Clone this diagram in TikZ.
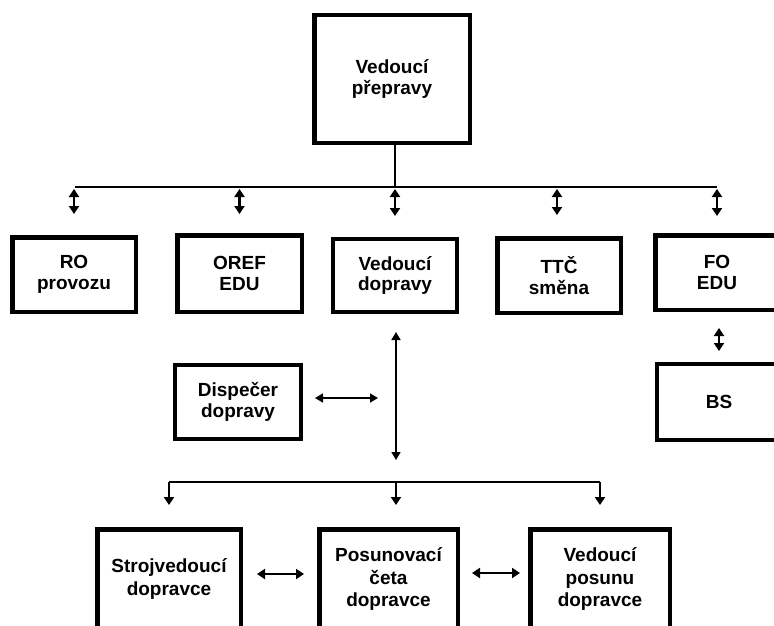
\documentclass[tikz,border=0pt]{standalone}
\usepackage{fontspec}
\setmainfont{Liberation Sans}
\usetikzlibrary{arrows.meta}
\begin{document}
\begin{tikzpicture}[x=1pt,y=-1pt,
  box/.style={draw, line width=4.5pt, fill=white, align=center, inner sep=0pt,
    font=\bfseries\fontsize{19}{20.5}\selectfont},
  boxb/.style={box, font=\bfseries\fontsize{19}{22.5}\selectfont},
  conn/.style={line width=2pt},
  dbl/.style={line width=2.2pt, {Triangle[length=8pt,width=10pt]}-{Triangle[length=8pt,width=10pt]}},
  dblthin/.style={line width=1.5pt, {Triangle[length=8pt,width=9pt]}-{Triangle[length=8pt,width=9pt]}},
  down/.style={line width=2pt, -{Triangle[length=8pt,width=10pt]}}]
\clip (0,0) rectangle (774,626);
\fill[white] (0,0) rectangle (774,626);

% top
\node[box, minimum width=155.5pt, minimum height=127.5pt] (top) at (392,79) {Vedoucí\\přepravy};

% second row
\node[box, minimum width=123.5pt, minimum height=74.5pt] (ro) at (74,274.5) {RO\\provozu};
\node[box, minimum width=124.5pt, minimum height=76.5pt] (oref) at (239.5,273.5) {OREF\\EDU};
\node[box, line width=4pt, minimum width=124pt, minimum height=73pt] (vd) at (395,275.5) {Vedoucí\\dopravy};
\node[box, minimum width=123.5pt, minimum height=74.5pt] (ttc) at (559,275.5) {TTČ\\směna};
\node[box, minimum width=123.5pt, minimum height=74.5pt] (fo) at (717,272.5) {FO\\EDU};
\node[box, line width=4pt, minimum width=124pt, minimum height=76pt] (bs) at (719,402) {BS};

% dispatcher
\node[box, line width=4pt, minimum width=126pt, minimum height=74pt] (disp) at (238,402) {Dispečer\\dopravy};

% bottom row
\node[boxb, minimum width=143.5pt, minimum height=99.5pt] (stroj) at (169,579) {Strojvedoucí\\dopravce};
\node[boxb, minimum width=138.5pt, minimum height=99.5pt] (posun) at (388.5,579) {Posunovací\\četa\\dopravce};
\node[boxb, minimum width=139.5pt, minimum height=99.5pt] (vp) at (600,579) {Vedoucí\\posunu\\dopravce};

% top bar
\coordinate (barC) at (395,187);
\coordinate (barL) at (75,187);
\coordinate (barR) at (717,187);
\coordinate (ttcA) at (557,187);
\draw[conn] (top.south -| barC) -- (barC);
\draw[conn] (barL) -- (barR);

\draw[dbl, shorten <=2pt, shorten >=21pt] (ro.north |- barC) -- (ro.north);
\draw[dbl, shorten <=2pt, shorten >=19pt] (oref.north |- barC) -- (oref.north);
\draw[dbl, shorten <=2pt, shorten >=21pt] (barC) -- (vd.north -| barC);
\draw[dbl, shorten <=2pt, shorten >=21pt] (ttcA) -- (ttcA |- ttc.north);
\draw[dbl, shorten <=2pt, shorten >=17pt] (fo.north |- barC) -- (fo.north);

% FO - BS
\draw[dbl, shorten <=16pt, shorten >=11pt] (bs.north |- fo.south) -- (bs.north);

% vertical from Vedoucí dopravy
\coordinate (bar2) at (396,482);
\draw[dblthin, shorten <=18pt, shorten >=22pt] (vd.south -| bar2) -- (bar2);

% dispatcher arrow
\draw[dblthin, shorten <=12pt, shorten >=18pt] ([yshift=4pt]disp.east) -- ([yshift=4pt]disp.east -| bar2);

% bottom bar
\draw[conn] (stroj.north |- bar2) -- (vp.north |- bar2);
\draw[down, shorten >=22pt] (stroj.north |- bar2) -- (stroj.north);
\draw[down, shorten >=22pt] (bar2) -- (bar2 |- posun.north);
\draw[down, shorten >=22pt] (vp.north |- bar2) -- (vp.north);

% bottom horizontal arrows
\draw[dbl, shorten <=14pt, shorten >=13pt] ([yshift=5pt]stroj.east) -- ([yshift=5pt]posun.west);
\draw[dbl, shorten <=12pt, shorten >=8pt] ([yshift=6pt]posun.east) -- ([yshift=6pt]vp.west);
\end{tikzpicture}
\end{document}
